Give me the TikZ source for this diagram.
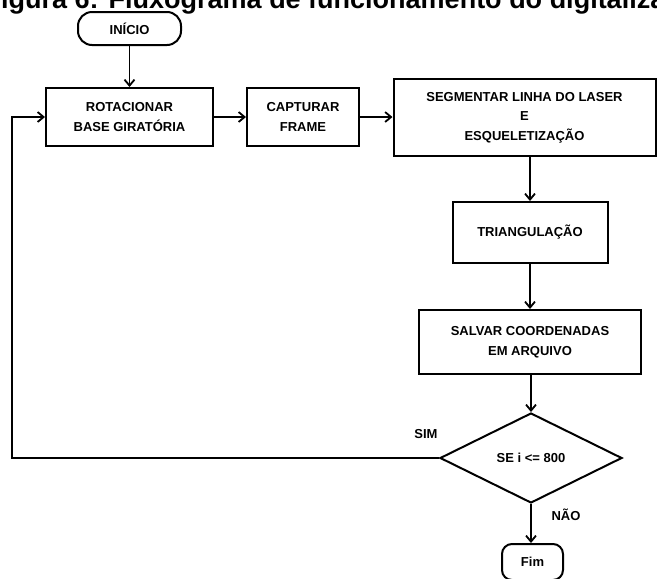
\documentclass[tikz,border=0pt]{standalone}
\usepackage{fontspec}
\setmainfont{Liberation Sans}
\usetikzlibrary{shapes.geometric,arrows.meta}
\begin{document}
\begin{tikzpicture}[x=1pt,y=-1pt,
  every node/.style={font=\fontsize{13}{19.5}\selectfont\bfseries, align=center, inner sep=0pt},
  procbox/.style={draw, line width=2pt, minimum width=#1},
  termbox/.style={draw, line width=2pt, rounded corners=#1},
  decbox/.style={draw, diamond, line width=2pt, minimum width=182pt, minimum height=90pt},
  arr/.style={line width=1.8pt, -{Straight Barb[length=6pt,width=10pt,line width=1.8pt]}},
  lbl/.style={font=\fontsize{13}{15}\selectfont\bfseries}
]
\useasboundingbox (0,0) rectangle (657,579);
\clip (0,0) rectangle (657,579);
\fill[white] (0,0) rectangle (657,579);

\node[anchor=base west, font=\fontsize{27}{30}\selectfont\bfseries] (title) at (-15.5,8) {Figura 6: Fluxograma de funcionamento do digitalizador};

\node[termbox=14pt, minimum width=103pt, minimum height=33pt] (inicio) at (129.5,28.5) {INÍCIO};
\node[procbox=167pt, minimum height=58pt] (rot) at (129.5,117) {ROTACIONAR\\BASE GIRATÓRIA};
\node[procbox=112pt, minimum height=58pt] (cap) at (303,117) {CAPTURAR\\FRAME};
\node[procbox=262pt, minimum height=77pt] (seg) at (524.5,117.5) {SEGMENTAR LINHA DO LASER\\E\\ESQUELETIZAÇÃO};
\node[procbox=155pt, minimum height=61pt] (tri) at (530,232.5) {TRIANGULAÇÃO};
\node[procbox=222pt, minimum height=64pt] (sal) at (530,342) {SALVAR COORDENADAS\\EM ARQUIVO};
\node[decbox] (dec) at (531,458) {SE i <= 800};
\node[termbox=10pt, minimum width=61pt, minimum height=36pt, text depth=0pt] (fim) at (532.5,562) {Fim};

\node[lbl] (sim) at (426,434) {SIM};
\node[lbl] (nao) at (566,515) {NÃO};

\draw[arr] (inicio.south) -- (rot.north);
\draw[arr] (rot.east) -- (cap.west);
\draw[arr] (cap.east) -- (seg.west |- cap.east);
\draw[arr] (seg.south -| tri.north) -- (tri.north);
\draw[arr] (tri.south) -- (tri.south |- sal.north);
\draw[arr] (sal.south -| dec.north) -- (dec.north);
\draw[arr] (dec.south) -- (dec.south |- fim.north);

\coordinate (lp) at (12,458);
\draw[arr] (dec.west) -- (lp) |- (rot.west);
\end{tikzpicture}
\end{document}
